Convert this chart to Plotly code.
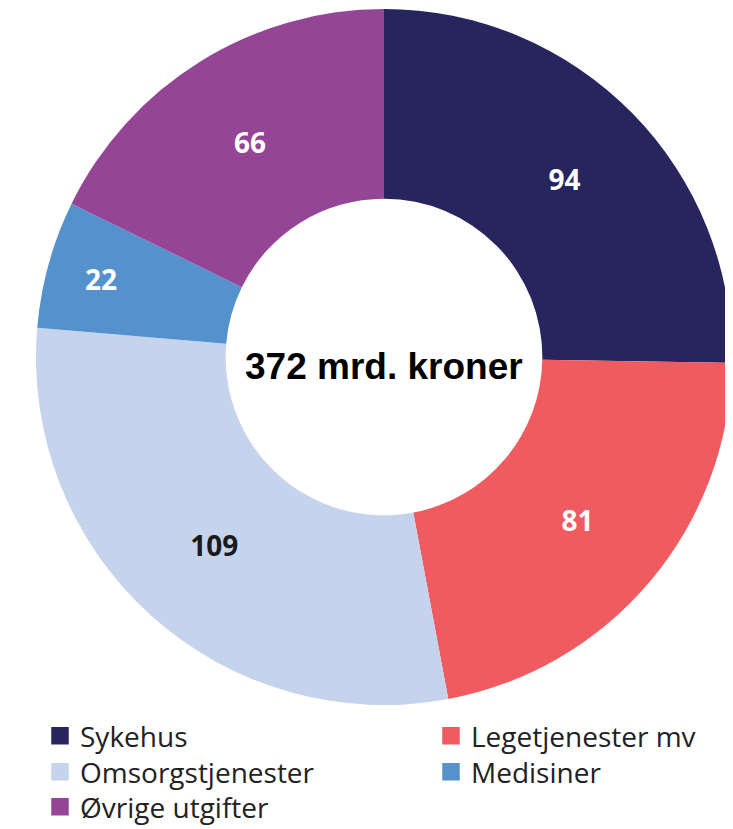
import plotly.graph_objects as go

categories = ["Sykehus", "Legetjenester mv", "Omsorgstjenester", "Medisiner", "Øvrige utgifter"]
values = [94, 81, 109, 22, 66]
colors = ["#26255e", "#ef5b61", "#c5d3ed", "#5591cc", "#954596"]
label_colors = ["#ffffff", "#ffffff", "#1a1a1a", "#ffffff", "#ffffff"]
center_text = "372 mrd. kroner"

W, H = 733, 829

# pie geometry in figure pixels (page is offset by the 8px body margin)
cx, cy, R = 376, 349, 348

fig = go.Figure()
fig.add_trace(go.Pie(
    labels=categories,
    values=values,
    marker=dict(colors=colors, line=dict(width=0)),
    sort=False,
    direction="clockwise",
    rotation=0,
    hole=0.455,
    textinfo="value",
    textposition="inside",
    insidetextorientation="horizontal",
    textfont=dict(family="Open Sans", size=28, color=label_colors, weight=700),
    domain=dict(x=[(cx - R) / W, (cx + R) / W], y=[1 - (cy + R) / H, 1 - (cy - R) / H]),
    showlegend=False,
    hoverinfo="label+value",
))

# legend entries: two columns laid out row by row
legend_x = [32, 423]        # legend left edge, px
row_y = [728, 764, 799]     # row centre, px
layout_legends = {}
for i, (name, col) in enumerate(zip(categories, colors)):
    key = "legend" if i == 0 else f"legend{i + 1}"
    c, r = i % 2, i // 2
    fig.add_trace(go.Scatter(
        x=[None], y=[None], mode="markers", name=name,
        marker=dict(symbol="square", size=16, color=col, line=dict(width=1.5, color=col)),
        legend=key, showlegend=True, hoverinfo="skip",
    ))
    layout_legends[key] = dict(
        x=legend_x[c] / W, xanchor="left",
        y=1 - row_y[r] / H, yanchor="middle",
        font=dict(family="Open Sans", size=28, color="#222222"),
        bgcolor="rgba(0,0,0,0)", borderwidth=0,
        itemclick=False, itemdoubleclick=False,
    )

fig.add_annotation(
    text=center_text, x=cx / W, y=1 - 358 / H, xref="paper", yref="paper",
    showarrow=False, xanchor="center", yanchor="middle",
    font=dict(family="Liberation Sans, Arial", size=37, color="#000000", weight=700),
)

fig.update_layout(
    width=W, height=H,
    margin=dict(l=0, r=0, t=0, b=0),
    paper_bgcolor="white", plot_bgcolor="white",
    xaxis=dict(visible=False), yaxis=dict(visible=False),
    **layout_legends,
)

fig.write_html("out.html")
